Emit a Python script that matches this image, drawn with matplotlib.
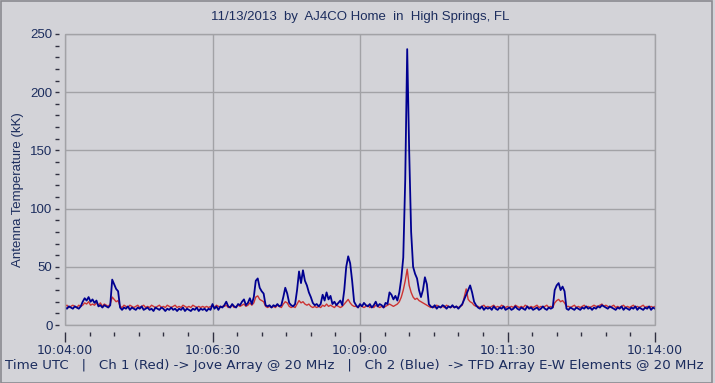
import numpy as np
import matplotlib
matplotlib.use("Agg")
import matplotlib.pyplot as plt
from matplotlib.patches import Rectangle
from matplotlib.ticker import MultipleLocator, FixedLocator

# ---- data (seconds after 10:04:00, 2-second samples) ----
t_start = 0
t_step = 2
blue_ch2 = [
    15,14,16,15,14,16,15,14,16,
    20,23,21,24,20,22,19,21,
    16,17,15,17,16,15,17,
    39,35,31,29,
    15,13,15,14,16,13,15,14,13,15,
    14,16,13,14,15,13,14,12,15,14,
    13,15,14,12,14,13,15,13,14,12,
    14,13,15,12,14,13,12,14,13,15,
    12,14,13,
    14,12,14,13,
    18,
    14,16,13,16,15,
    17,20,16,15,18,
    16,15,18,17,20,
    22,17,19,23,18,
    24,38,40,32,29,27,17,
    16,17,15,17,16,18,16,17,
    24,32,27,19,
    17,16,18,
    30,46,36,47,38,34,28,24,19,
    17,18,16,18,
    26,21,28,22,25,
    18,20,17,19,21,17,
    30,50,59,53,38,20,
    17,15,18,16,19,17,16,18,15,17,20,16,18,17,15,19,18,
    28,26,22,25,21,28,40,58,
    125,237,150,80,50,44,40,30,24,30,41,35,18,
    16,15,17,14,16,15,17,16,14,16,15,17,15,16,14,
    16,18,22,26,30,34,28,20,17,
    15,14,16,13,15,14,15,13,16,14,
    13,15,14,16,13,14,15,13,14,16,
    14,13,15,14,13,16,14,15,13,14,
    15,13,14,16,14,13,15,14,15,
    30,34,36,30,33,29,
    14,
    13,15,14,13,15,14,13,15,14,16,
    14,15,13,15,14,16,15,17,16,15,
    14,16,15,14,13,15,14,16,13,15,
    14,13,15,14,16,13,15,14,13,15,
    14,16,13,15,14,
]
red_ch1 = [
    16,17,15,16,17,16,15,17,16,
    17,19,18,20,17,18,17,19,
    17,19,16,18,17,16,18,
    24,22,20,21,
    16,15,17,16,15,17,16,15,16,17,
    15,16,17,15,16,15,17,16,15,16,
    17,15,16,15,17,16,15,16,17,15,
    16,15,17,16,15,16,15,17,16,15,
    16,15,16,
    15,16,15,16,
    16,
    15,17,16,15,16,
    16,17,15,16,17,
    15,16,17,16,17,
    18,16,17,19,17,
    19,24,25,22,21,20,16,
    15,16,15,16,15,17,16,15,
    18,20,19,16,
    15,16,15,
    18,21,19,20,18,17,18,16,15,
    16,15,16,15,
    17,16,18,16,17,
    16,15,17,16,15,16,
    18,20,22,19,17,16,
    16,15,17,16,15,16,17,15,16,15,17,16,15,16,15,16,17,
    18,17,16,17,18,20,24,30,
    38,48,34,28,24,22,23,21,20,19,18,17,16,
    15,16,15,17,16,15,16,15,17,16,15,16,15,16,15,
    16,17,24,31,22,20,19,17,16,
    16,15,16,17,15,16,15,16,17,15,
    16,15,17,16,15,16,15,16,15,17,
    16,15,16,15,17,16,15,16,15,16,
    17,15,16,15,16,17,15,16,15,
    19,21,22,20,21,19,
    16,
    16,15,16,17,15,16,15,16,17,15,
    16,15,16,17,16,16,17,18,16,17,
    16,15,16,17,15,16,15,16,17,15,
    16,15,16,17,15,16,15,16,17,15,
    16,15,16,15,16,
]
x_tick_labels = ["10:04:00", "10:06:30", "10:09:00", "10:11:30", "10:14:00"]
x_tick_pos = [0, 150, 300, 450, 600]
y_ticks = [0, 50, 100, 150, 200, 250]

title = "11/13/2013  by  AJ4CO Home  in  High Springs, FL"
ylabel = "Antenna Temperature (kK)"
caption = "Time UTC   |   Ch 1 (Red) -> Jove Array @ 20 MHz   |   Ch 2 (Blue)  -> TFD Array E-W Elements @ 20 MHz"

t = t_start + t_step * np.arange(len(blue_ch2))

bg = "#d3d3d8"
txt = "#1c2d5e"
gridc = "#a2a2a6"

fig = plt.figure(figsize=(7.15, 3.83), dpi=100, facecolor=bg)
ax = fig.add_axes([65/715, 58/383, 590/715, 291/383])
ax.set_facecolor(bg)

ax.plot(t, red_ch1, color="#cc3333", lw=1.0, zorder=3)
ax.plot(t, blue_ch2, color="#000090", lw=1.3, zorder=4)

ax.set_xlim(0, 600)
ax.set_ylim(0, 250)

ax.xaxis.set_major_locator(FixedLocator(x_tick_pos))
ax.set_xticklabels(x_tick_labels)
ax.xaxis.set_minor_locator(MultipleLocator(25))
ax.yaxis.set_major_locator(FixedLocator(y_ticks))
ax.yaxis.set_minor_locator(MultipleLocator(10))

for s in ax.spines.values():
    s.set_visible(False)
ax.spines['left'].set_position(('outward', 4))
ax.spines['bottom'].set_position(('outward', 5))

ax.add_patch(Rectangle((0, 0), 1, 1, transform=ax.transAxes, fill=False,
                       edgecolor=gridc, lw=1.0, zorder=5, clip_on=False))
ax.grid(True, which='major', color=gridc, lw=1.0)
ax.set_axisbelow(True)

ax.tick_params(axis='y', which='both', direction='out', length=3, width=1,
               color="#303040", labelsize=9.5, labelcolor=txt, pad=2)
ax.tick_params(axis='x', which='major', direction='out', length=7, width=1,
               color="#303040", pad=2)
ax.tick_params(axis='x', which='minor', direction='out', length=3, width=1,
               color="#303040")
for lab in ax.get_yticklabels():
    lab.set_family("Liberation Sans")
for lab in ax.get_xticklabels():
    lab.set_family("DejaVu Sans")
    lab.set_fontsize(9)
    lab.set_color(txt)

fig.text(65/715 + 295/715, 1 - 17/383, title, ha='center', va='center',
         fontsize=9.5, color=txt, family="Liberation Sans")
fig.text(18/715, 1 - 190/383, ylabel, rotation=90, ha='center', va='center',
         fontsize=9.5, color=txt, family="Liberation Sans")
fig.text(5/715, 1 - 366/383, caption, ha='left', va='center',
         fontsize=9.6, color=txt, family="DejaVu Sans")

fig.patches.append(Rectangle((0.5/715, 0), 711.5/715, 1 - 0.5/383,
                             transform=fig.transFigure, fill=False,
                             edgecolor="#8a8a90", lw=1.2))

fig.savefig("out.png", dpi=100, facecolor=bg)
